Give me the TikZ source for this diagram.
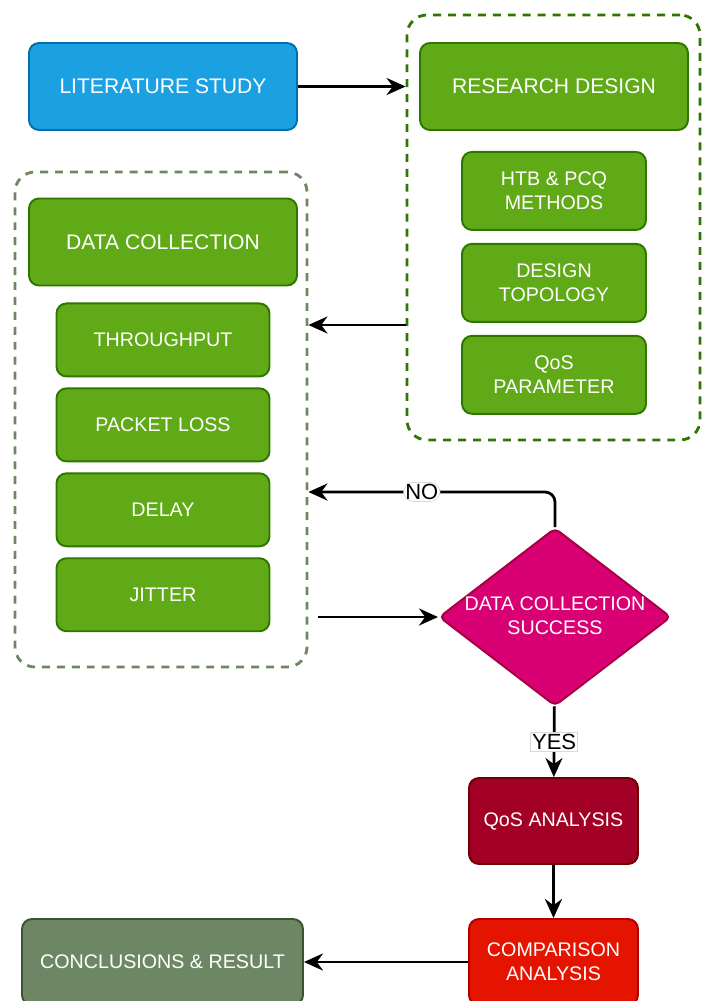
\documentclass[tikz,border=0pt]{standalone}
\usepackage{fontspec}
\setmainfont{Liberation Sans}
\newfontfamily\answerfont{Liberation Sans}
\usepackage{tikz}
\usetikzlibrary{arrows.meta,positioning,shapes.geometric}
\definecolor{litblue}{RGB}{27,161,226}
\definecolor{litedge}{RGB}{0,110,175}
\definecolor{stepgreen}{RGB}{96,169,23}
\definecolor{stepedge}{RGB}{45,118,0}
\definecolor{checkpink}{RGB}{216,0,115}
\definecolor{checkedge}{RGB}{165,0,64}
\definecolor{qoscrimson}{RGB}{162,0,37}
\definecolor{qosedge}{RGB}{111,0,0}
\definecolor{comparered}{RGB}{229,20,0}
\definecolor{compareedge}{RGB}{178,0,0}
\definecolor{resultolive}{RGB}{109,135,100}
\definecolor{resultedge}{RGB}{58,84,49}
% text that does not widen the diamond
\newcommand{\diamondtext}[1]{\raisebox{-0.3em}[0pt][0pt]{\makebox[0pt]{%
  \begin{tabular}[c]{@{}c@{}}#1\end{tabular}}}}
\tikzset{
  stage/.style={rounded corners=2mm,line width=1.1pt,text=white,align=center,
    inner sep=2pt,font=\fontsize{12}{13.5}\selectfont,
    minimum width=53.6mm,minimum height=17.4mm},
  smalltext/.style={font=\fontsize{11.2}{13.5}\selectfont},
  bluebox/.style={stage,draw=litedge,fill=litblue},
  greenbox/.style={stage,draw=stepedge,fill=stepgreen},
  subbox/.style={greenbox,smalltext,minimum width=36.8mm,minimum height=15.6mm},
  metricbox/.style={greenbox,smalltext,minimum width=42.6mm,minimum height=14.6mm},
  analysisbox/.style={stage,smalltext,minimum width=33.8mm,minimum height=17.2mm},
  decision/.style={diamond,rounded corners=3pt,line width=1.1pt,draw=checkedge,
    fill=checkpink,text=white,inner sep=0pt,smalltext,
    minimum width=46.4mm,minimum height=35.6mm},
  groupframe/.style={rounded corners=4mm,line width=1.6pt,
    dash pattern=on 4.5pt off 4pt},
  flow/.style={-{Stealth[length=3.8mm,width=3.4mm]},line width=1.6pt,draw=black},
  answer/.style={fill=white,draw=black!15,line width=0.4pt,inner sep=1pt,
    text=black,font=\answerfont\fontsize{12.5}{14}\selectfont}
}
\begin{document}
\begin{tikzpicture}[x=0.2mm,y=-0.2mm,node distance=2.4mm]
  \useasboundingbox (0,0) rectangle (710,1001);
  % dashed groups
  \node[groupframe,draw=stepedge,minimum width=58.6mm,minimum height=85mm]
    (designgroup) at (553.5,227.5) {};
  \node[groupframe,draw=resultolive,minimum width=58.4mm,minimum height=99mm]
    (datagroup) at (161,419.5) {};
  % research design
  \node[bluebox] (literature) at (163,86.5) {LITERATURE STUDY};
  \node[greenbox] (research) at (554,86.5) {RESEARCH DESIGN};
  \node[subbox,below=4.0mm of research] (methods) {HTB \& PCQ\\METHODS};
  \node[subbox,below=of methods] (topology) {DESIGN\\TOPOLOGY};
  \node[subbox,below=of topology] (parameter) {QoS\\PARAMETER};
  % data collection
  \node[greenbox] (collection) at (163,242) {DATA COLLECTION};
  \node[metricbox,below=3.2mm of collection] (throughput) {THROUGHPUT};
  \node[metricbox,below=2.0mm of throughput] (loss) {PACKET LOSS};
  \node[metricbox,below=2.0mm of loss] (delay) {DELAY};
  \node[metricbox,below=2.0mm of delay] (jitter) {JITTER};
  % evaluation
  \node[decision] (check) at (555,617) {\diamondtext{DATA COLLECTION\\SUCCESS}};
  \node[analysisbox,draw=qosedge,fill=qoscrimson] (qos) at (553.5,821)
    {QoS ANALYSIS};
  \node[analysisbox,draw=compareedge,fill=comparered] (compare) at (553.5,962)
    {COMPARISON\\ANALYSIS};
  \node[stage,smalltext,draw=resultedge,fill=resultolive,minimum width=56.2mm,
    minimum height=17.2mm] (result) at (162.5,962) {CONCLUSIONS \& RESULT};
  \coordinate (back) at (407,325);
  \coordinate (retry) at (555,492);
  \draw[flow] (literature) -- (literature.east -| designgroup.west);
  \draw[flow] (designgroup.west |- back) -- (datagroup.east |- back);
  \draw[flow,shorten <=2mm] (datagroup.east |- check) -- (check);
  \draw[flow,rounded corners=2mm] (check.north) |- (datagroup.east |- retry)
    node[answer,pos=0.77] {NO};
  \draw[flow] (check) -- (qos) node[answer,midway] {YES};
  \draw[flow] (qos) -- (compare);
  \draw[flow] (compare) -- (result);
\end{tikzpicture}
\end{document}
